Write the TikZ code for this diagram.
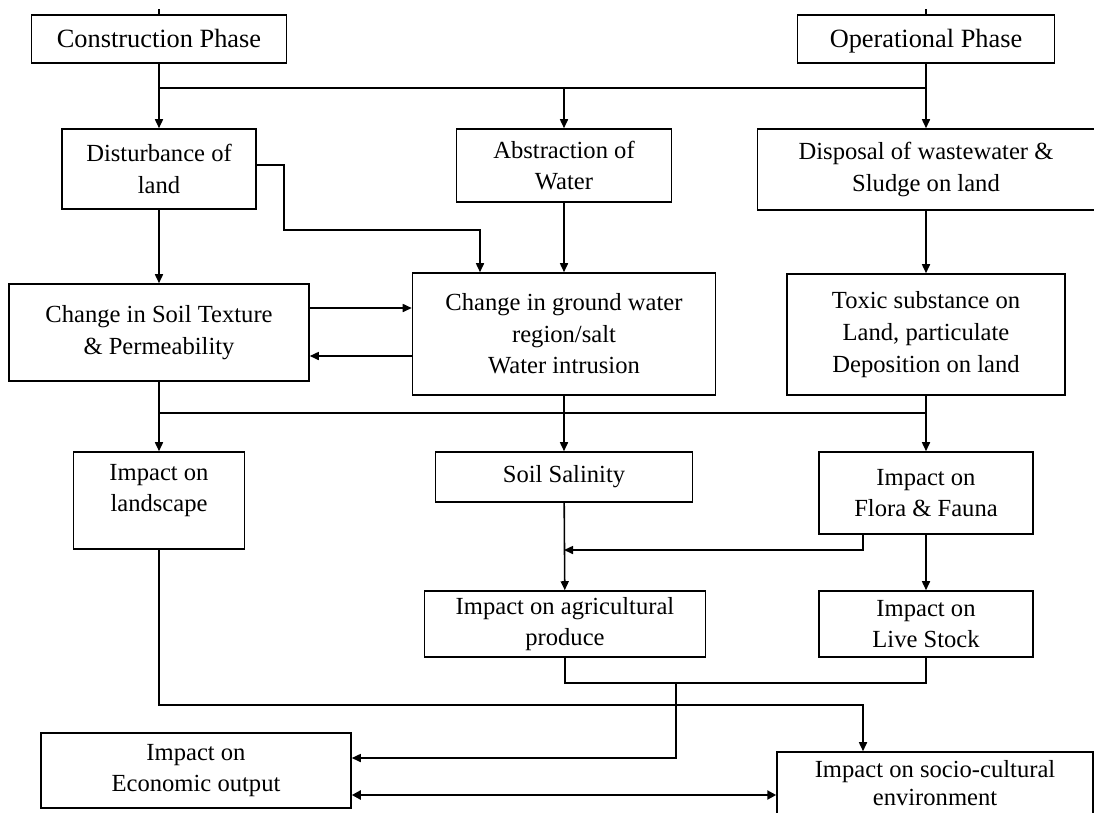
\documentclass[tikz,border=0pt]{standalone}
\usepackage{fontspec}
\setmainfont{Liberation Serif}
\usetikzlibrary{arrows.meta}

\begin{document}
\begin{tikzpicture}[
  x=.02cm,y=-.02cm,
  effect/.style={draw,line width=.9pt,align=center,inner sep=2pt,
    font=\fontsize{14}{18}\selectfont},
  phase/.style={effect,font=\fontsize{15}{18}\selectfont,text height=1.05em,text depth=.05em},
  link/.style={-{Triangle[length=1.8mm,width=1.6mm]},line width=.9pt},
  junction/.style={line width=.9pt},
  mutual/.style={{Triangle[length=1.8mm,width=1.8mm]}-{Triangle[length=1.8mm,width=1.8mm]},
    line width=1.6pt}
]
% Pixel grid of the original page: x to the right, y downwards.
\useasboundingbox (0,0) rectangle (1094,812);

\node[phase,minimum width=5.1cm,minimum height=.96cm] (constr) at (159,39) {Construction Phase};
\node[phase,minimum width=5.14cm,minimum height=.96cm] (oper) at (926,39) {Operational Phase};

\node[effect,minimum width=3.88cm,minimum height=1.6cm] (dist) at (159,169) {Disturbance of\\land};
\node[effect,minimum width=4.3cm,minimum height=1.46cm] (abstr) at (564,165.5) {Abstraction of\\Water};
\node[effect,minimum width=6.74cm,minimum height=1.62cm] (disp) at (926,169.5)
  {Disposal of wastewater \&\\Sludge on land};

\node[effect,minimum width=6cm,minimum height=1.94cm] (soil) at (159,332.5)
  {Change in Soil Texture\\\& Permeability};
\node[effect,minimum width=6.06cm,minimum height=2.44cm] (ground) at (564,334)
  {Change in ground water\\region/salt\\Water intrusion};
\node[effect,minimum width=5.56cm,minimum height=2.42cm] (toxic) at (926,334.5)
  {Toxic substance on\\Land, particulate\\Deposition on land};

\node[effect,minimum width=3.42cm,minimum height=1.94cm,text depth=.5cm] (land) at (159,500.5)
  {Impact on\\landscape};
\node[effect,minimum width=5.14cm,minimum height=1cm] (salin) at (564,477) {Soil Salinity};
\node[effect,minimum width=4.28cm,minimum height=1.64cm] (flora) at (926,493)
  {Impact on\\Flora \& Fauna};

\node[effect,minimum width=5.62cm,minimum height=1.32cm] (agri) at (565,624)
  {Impact on agricultural\\produce};
\node[effect,minimum width=4.28cm,minimum height=1.32cm] (stock) at (926,624)
  {Impact on\\Live Stock};

\node[effect,minimum width=6.2cm,minimum height=1.5cm] (econ) at (196,770.5)
  {Impact on\\Economic output};
\node[effect,font=\fontsize{14}{16}\selectfont,minimum width=6.32cm,minimum height=1.24cm]
  (socio) at (935,783) {Impact on socio-cultural\\environment};

\coordinate (bus-top-l) at (159,88);
\coordinate (bus-top-r) at (926,88);
\coordinate (yield) at (676,683);

\draw[junction] (constr.north) -- ++(0,-5);
\draw[junction] (oper.north) -- ++(0,-5);
\draw[link] (constr) -- (dist);
\draw[link] (oper) -- (disp);
\draw[junction] (bus-top-l) -- (bus-top-r);
\draw[link] (abstr |- bus-top-l) -- (abstr);

\draw[link] (dist) -- (soil);
\draw[link] (dist.east |- 0,165) -| (284,230) -| (ground.north -| 480,0);
\draw[link] (abstr) -- (ground);
\draw[link] (disp) -- (toxic);
\draw[link] (soil.east |- 0,308) -- (ground.west |- 0,308);
\draw[link] (ground.west |- 0,356) -- (soil.east |- 0,356);

\draw[link] (soil) -- (land);
\draw[junction] (soil.south |- 0,413) -- (toxic.south |- 0,413);
\draw[link] (ground) -- (salin);
\draw[link] (toxic) -- (flora);
\draw[link] (flora.south -| 863,0) |- (salin.south |- 0,550);
\draw[link] (salin) -- (agri);
\draw[link] (flora) -- (stock);

\draw[junction] (agri.south) |- (stock.south |- 0,683) -- (stock.south);
\draw[link] (yield) |- (econ.east |- 0,758);
\draw[link] (land.south) |- (863,705) -- (socio.north -| 863,0);
\draw[mutual] (econ.east |- 0,795) -- (socio.west |- 0,795);
\end{tikzpicture}
\end{document}
